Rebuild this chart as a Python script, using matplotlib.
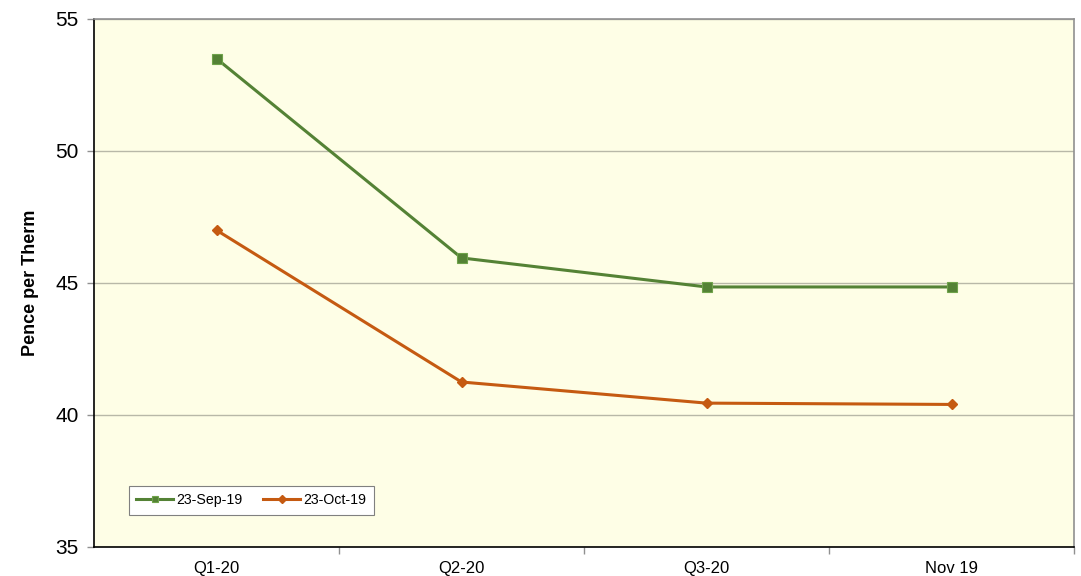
import matplotlib
matplotlib.use("Agg")
import matplotlib.pyplot as plt

categories = ["Q1-20", "Q2-20", "Q3-20", "Nov 19"]
sep19 = [53.5, 45.95, 44.85, 44.85]
oct19 = [47.0, 41.25, 40.45, 40.4]
series_labels = ["23-Sep-19", "23-Oct-19"]
y_ticks = [35, 40, 45, 50, 55]

plt.rcParams['font.family'] = ['Liberation Sans', 'DejaVu Sans']

fig = plt.figure(figsize=(10.81, 5.76), dpi=100)
ax = fig.add_axes([94/1081, 29/576, 980/1081, 528/576])
ax.set_facecolor("#FEFEE6")

x = list(range(len(categories)))
green = "#548235"
orange = "#C55A11"
ax.plot(x, sep19, color=green, lw=2.2, marker="s", ms=7, mfc=green, mec="#6FA34A", mew=0.8, label=series_labels[0])
ax.plot(x, oct19, color=orange, lw=2.2, marker="D", ms=5.5, mfc=orange, mec=orange, label=series_labels[1])

ax.set_xlim(-0.5, len(categories) - 0.5)
ax.set_ylim(35, 55)
ax.set_yticks(y_ticks)
ax.set_yticklabels([str(v) for v in y_ticks], fontsize=15)
ax.yaxis.grid(True, color="#B8B8A8", lw=1)
ax.set_axisbelow(True)

ax.set_xticks(x)
ax.set_xticklabels(categories, fontsize=12)
ax.tick_params(axis="x", which="major", length=0, pad=10)
ax.set_xticks([i + 0.5 for i in x], minor=True)
ax.tick_params(axis="x", which="minor", length=5, color="#909090", width=1)
ax.tick_params(axis="y", which="major", length=5, color="#909090", width=1, pad=6)

ax.spines["left"].set_color("black")
ax.spines["bottom"].set_color("black")
ax.spines["top"].set_color("#909090")
ax.spines["right"].set_color("#909090")
for s in ax.spines.values():
    s.set_linewidth(1.2)

ax.set_ylabel("Pence per Therm", fontsize=13, fontweight="bold", labelpad=12)

leg = ax.legend(loc="lower left", bbox_to_anchor=(0.028, 0.047), ncol=2, fontsize=10.2,
                frameon=True, fancybox=False, edgecolor="#808080", facecolor="white",
                framealpha=1, handlelength=2.6, columnspacing=1.5, borderpad=0.55,
                handletextpad=0.2, markerscale=0.7)
leg.get_frame().set_linewidth(0.8)

fig.savefig("out.png", dpi=100)
